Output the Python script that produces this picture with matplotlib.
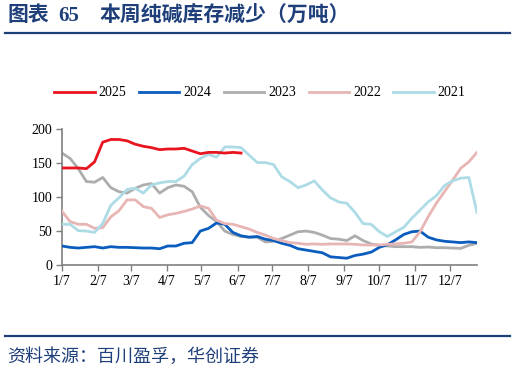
import matplotlib
matplotlib.use("Agg")
import matplotlib.pyplot as plt
from matplotlib.lines import Line2D

plt.rcParams['font.family'] = ['Liberation Serif', 'Noto Sans CJK SC', 'DejaVu Sans']

# weekly points, x in days since 1/7
weeks = [7 * i for i in range(52)]
month_ticks = [0, 31, 59, 90, 120, 151, 181, 212, 243, 273, 304, 334]
month_labels = ["1/7", "2/7", "3/7", "4/7", "5/7", "6/7",
                "7/7", "8/7", "9/7", "10/7", "11/7", "12/7"]

y2025 = [143, 143, 143, 142, 152, 181, 185, 185, 183, 178, 175, 173, 170, 171,
         171, 172, 168, 164, 166, 166, 165, 166, 165]
y2024 = [28, 26, 25, 26, 27, 25, 27, 26, 26, 25.5, 25, 25, 24, 28, 28, 32, 33,
         50, 54, 62, 60, 48, 43, 41, 42, 38, 36, 32, 29, 24, 22, 20, 18, 12,
         11, 10, 14, 16, 19, 26, 30, 37, 45, 49, 50, 41, 37, 35, 34, 33, 34, 33]
y2023 = [165, 157, 142, 123, 122, 129, 114, 108, 106, 113, 118, 120, 106, 114,
         118, 116, 108, 85, 73, 64, 50, 45, 42, 41, 41, 34, 35, 39, 44, 49, 50,
         48, 44, 39, 38, 36, 43, 36, 31, 29, 28, 27, 27, 27, 26, 26.5, 25.5,
         25.5, 25, 24.5, 29, 32]
y2022 = [79, 64, 60, 60, 54, 55, 71, 80, 96, 96, 86, 83.5, 70, 74, 76, 79, 82.5,
         87, 83.5, 66, 61, 60, 56.5, 53, 48, 44, 39, 36, 33, 32, 30.5, 31, 30.5,
         31, 31, 31, 30.5, 29.5, 29.5, 29.5, 30.5, 31, 32, 34, 49, 71, 91, 108,
         125, 142.5, 152, 166]
y2021 = [60, 60, 50.6, 50, 48, 61, 88, 99, 111.5, 113, 106, 118, 121, 123, 123,
         131, 148, 157, 163, 159, 174, 174, 173, 162, 151, 151, 148, 130, 123,
         114, 118, 124, 110.5, 99, 93, 91, 77.6, 61, 60, 49, 42, 49, 55.5, 69,
         81, 93, 102, 117, 124, 128, 129, 77.6]

navy = "#1F3F7A"

fig = plt.figure(figsize=(5.15, 3.7), dpi=100)
ax = fig.add_axes([0.1204, 0.2838, 0.8058, 0.3667])

lw = 2.0
l23, = ax.plot(weeks, y2023, color="#ADADAD", lw=lw, zorder=2)
l24, = ax.plot(weeks, y2024, color="#0A5DBE", lw=lw, zorder=3)
l22, = ax.plot(weeks, y2022, color="#E8B5B5", lw=lw, zorder=4)
l21, = ax.plot(weeks, y2021, color="#ADDCE6", lw=lw, zorder=5)
l25, = ax.plot(weeks[:len(y2025)], y2025, color="#E8141E", lw=lw, zorder=6)

ax.set_xlim(0, 357)
ax.set_ylim(0, 200)
ax.set_xticks(month_ticks)
ax.set_xticklabels(month_labels)
ax.set_yticks([0, 50, 100, 150, 200])
ax.tick_params(axis="both", labelsize=10, length=4, width=1, color="#808080",
               direction="out", pad=3)
for s in ["top", "right"]:
    ax.spines[s].set_visible(False)
for s in ["left", "bottom"]:
    ax.spines[s].set_color("#808080")
    ax.spines[s].set_linewidth(1.2)

fig.legend([l25, l24, l23, l22, l21], ["2025", "2024", "2023", "2022", "2021"],
           loc="center", bbox_to_anchor=(0.505, 0.749), ncol=5, frameon=False,
           fontsize=10, handlelength=2.9, handletextpad=0.3, columnspacing=0.9)

# title and source
fig.text(0.014, 0.957, "图表", fontsize=15, fontweight="bold", color=navy,
         va="center", ha="left")
fig.text(0.113, 0.957, "65", fontsize=15, fontweight="bold", color=navy,
         va="center", ha="left")
fig.text(0.194, 0.957, "本周纯碱库存减少（万吨）", fontsize=15, fontweight="bold",
         color=navy, va="center", ha="left")
fig.add_artist(Line2D([0.01, 0.99], [0.911, 0.911], color=navy, lw=1.6))
fig.add_artist(Line2D([0.01, 0.99], [0.093, 0.093], color=navy, lw=1.6))
fig.text(0.014, 0.035, "资料来源：百川盈孚，华创证券", fontsize=13, color=navy,
         va="center", ha="left", family=['Noto Sans CJK SC'])

fig.savefig("out.png", dpi=100)
